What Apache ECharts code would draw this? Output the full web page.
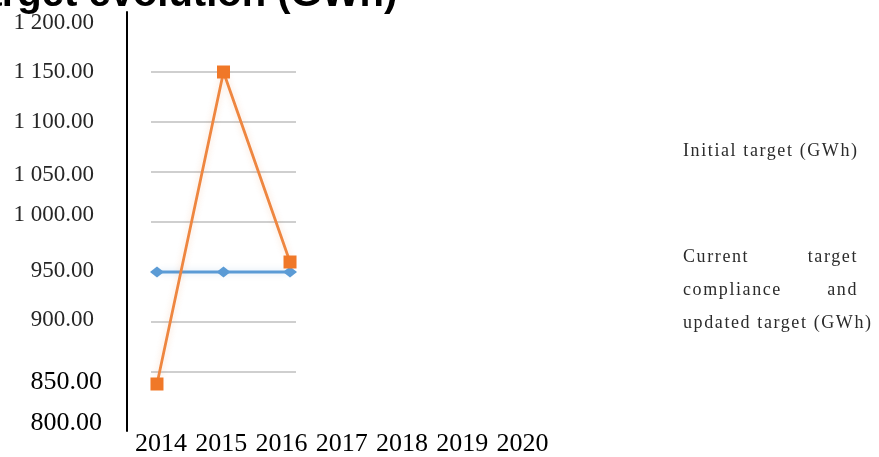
<!DOCTYPE html>
<html>
<head>
<meta charset="utf-8">
<script src="https://cdn.jsdelivr.net/npm/echarts@6/dist/echarts.min.js"></script>
<style>
html,body{margin:0;padding:0;background:#fff;}
#chart{width:879px;height:457px;}
</style>
</head>
<body>
<div id="chart"></div>
<script>
// ---- data ----
const titleText = 'Target evolution (GWh)';
const years = ['2014', '2015', '2016', '2017', '2018', '2019', '2020'];
const seriesNames = ['Initial target (GWh)', 'Current target compliance and updated target (GWh)'];
const initialTarget = [950, 950, 950];
const currentTarget = [838, 1150, 960];
const yMin = 800;
const yMax = 1200;
const yStep = 50;

// ---- legend letter spacing (canvas) ----
(function () {
  const P = CanvasRenderingContext2D.prototype;
  const orig = P.fillText;
  P.fillText = function (t, x, y, m) {
    if ('letterSpacing' in this) {
      this.letterSpacing = (this.font && this.font.indexOf('LgSp') >= 0) ? '1.6px' : '0px';
    }
    return m === undefined ? orig.call(this, t, x, y) : orig.call(this, t, x, y, m);
  };
})();

// ---- label styling ----
function fmtNum(v) {
  const s = Number(v).toFixed(2).split('.');
  return s[0].replace(/\B(?=(\d{3})+(?!\d))/g, ' ') + '.' + s[1];
}
const labelShift = {1200: 1, 1150: 0, 1100: 0, 1050: 3, 1000: -7, 950: -1, 900: -2, 850: 10, 800: 1};
const yRich = {};
const yStyleName = {};
for (let v = yMin; v <= yMax; v += yStep) {
  const d = labelShift[v] || 0;
  const big = v <= 850;
  const name = 'k' + v;
  yStyleName[v] = name;
  yRich[name] = {
    fontFamily: 'Liberation Serif',
    fontSize: big ? 26 : 23,
    color: big ? '#000' : '#262626',
    padding: [d > 0 ? 2 * d : 0, big ? 0 : 8, d < 0 ? -2 * d : 0, 0]
  };
}

const legendFont = 'Liberation Serif, LgSp';

const chart = echarts.init(document.getElementById('chart'));
chart.setOption({
  animation: false,
  backgroundColor: '#fff',
  title: {
    text: titleText,
    left: -42,
    top: -25,
    padding: 0,
    textStyle: {fontFamily: 'Liberation Sans', fontWeight: 'bold', fontSize: 40, color: '#000'}
  },
  legend: {
    orient: 'vertical',
    left: 678,
    top: 134.5,
    padding: 0,
    itemGap: 73,
    itemWidth: 0,
    itemHeight: 0,
    icon: 'none',
    itemStyle: {opacity: 0},
    lineStyle: {opacity: 0},
    data: seriesNames,
    formatter: function (name) {
      if (name === seriesNames[1]) {
        return '{l|Current}{r|target}\n{l|compliance}{r|and}\n{l|updated target (GWh)}';
      }
      return '{l|' + name + '}';
    },
    textStyle: {
      width: 175,
      fontFamily: legendFont,
      fontSize: 18,
      lineHeight: 33,
      color: '#2b2b2b',
      rich: {
        l: {align: 'left', fontFamily: legendFont, fontSize: 18, lineHeight: 33, color: '#2b2b2b'},
        r: {align: 'right', fontFamily: legendFont, fontSize: 18, lineHeight: 33, color: '#2b2b2b'}
      }
    }
  },
  grid: [
    {left: 151, top: 22, width: 145, bottom: 35, containLabel: false},
    {left: 131, top: 12, width: 421.5, bottom: 22, containLabel: false}
  ],
  xAxis: [
    {
      gridIndex: 0, type: 'value', min: 2013.91, max: 2016.09,
      axisLine: {show: false}, axisTick: {show: false}, axisLabel: {show: false}, splitLine: {show: false}
    },
    {
      gridIndex: 1, type: 'category', data: years, boundaryGap: true,
      axisLine: {show: false}, axisTick: {show: false}, splitLine: {show: false},
      axisLabel: {interval: 0, margin: 0, fontFamily: 'Liberation Serif', fontSize: 26, color: '#000'}
    }
  ],
  yAxis: [
    {
      gridIndex: 0, type: 'value', min: yMin, max: yMax, interval: yStep,
      axisLine: {show: false}, axisTick: {show: false},
      splitLine: {show: true, showMinLine: false, showMaxLine: false, lineStyle: {color: '#BFBFBF', width: 1.5}},
      axisLabel: {
        margin: 49,
        formatter: function (v) { return '{' + yStyleName[v] + '|' + fmtNum(v) + '}'; },
        rich: yRich
      }
    },
    {
      gridIndex: 1, type: 'value', min: 0, max: 1, offset: 4,
      axisLine: {show: true, lineStyle: {color: '#000', width: 2}},
      axisTick: {show: false}, axisLabel: {show: false}, splitLine: {show: false}
    }
  ],
  series: [
    {
      name: seriesNames[0], type: 'line', xAxisIndex: 0, yAxisIndex: 0,
      data: initialTarget.map(function (v, i) { return [Number(years[i]), v]; }),
      symbol: 'diamond', symbolSize: [14, 11], showAllSymbol: true,
      lineStyle: {color: '#5B9BD5', width: 3, shadowColor: 'rgba(91,155,213,0.25)', shadowBlur: 6},
      itemStyle: {color: '#5B9BD5'},
      z: 2
    },
    {
      name: seriesNames[1], type: 'line', xAxisIndex: 0, yAxisIndex: 0,
      data: currentTarget.map(function (v, i) { return [Number(years[i]), v]; }),
      symbol: 'rect', symbolSize: 13, showAllSymbol: true,
      lineStyle: {color: '#EE8640', width: 2.8, shadowColor: 'rgba(237,125,49,0.25)', shadowBlur: 6},
      itemStyle: {color: '#F07828'},
      z: 3
    }
  ]
});
</script>
</body>
</html>
